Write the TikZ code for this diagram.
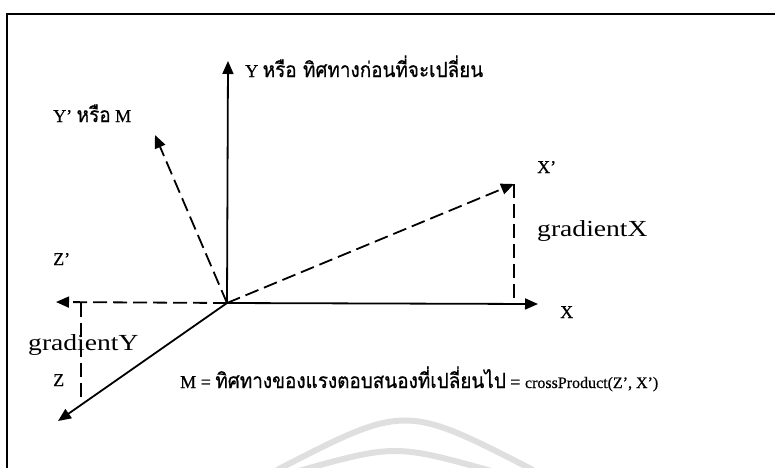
\documentclass[tikz,border=0pt]{standalone}
\usepackage{fontspec}
\setmainfont[FakeBold=0.4,AutoFakeBold=0.4]{Liberation Serif}
\newfontfamily\thai[Script=Thai,FakeStretch=0.9,FakeBold=0.6]{Loma}
\newfontfamily\gradfont[FakeStretch=1.2]{Liberation Serif}
\newcommand\thaitxt[1]{{\fontsize{21}{24}\thai\selectfont #1}}
\usetikzlibrary{arrows.meta}
\begin{document}
\begin{tikzpicture}[x=1pt,y=-1pt,
  axis/.style={line width=1.8pt,-{Triangle[length=13pt,width=11pt]}},
  daxis/.style={axis,dash pattern=on 14pt off 6pt},
  guide/.style={line width=1.8pt,dash pattern=on 14pt off 6pt},
  lbl/.style={inner sep=0pt,anchor=base west,font=\fontsize{18}{20}\selectfont},
  big/.style={inner sep=0pt,anchor=base west,font=\fontsize{23}{26}\gradfont\selectfont},
  wmark/.style={gray!25,line width=6pt}]
\useasboundingbox (0,0) rectangle (775,467);
% frame
\draw[line width=2pt] (7,470) -- (7,14) -- (776,14);
% watermark arcs
\draw[wmark] (277,470) .. controls (405,404) .. (533,470);
\draw[wmark] (295,472) .. controls (395,444) .. (495,472);
% points
\coordinate (O) at (227,303);
\coordinate (Ytip) at (228,61);
\coordinate (Mtip) at (155,135);
\coordinate (XPtip) at (514,184);
\coordinate (XPfoot) at (514,303);
\coordinate (Xtip) at (538,304);
\coordinate (ZPtip) at (56,302);
\coordinate (ZPfoot) at (81,303);
\coordinate (ZPend) at (81,397);
\coordinate (Ztip) at (58,421);
% axes
\draw[axis] (O) -- (Ytip);
\draw[axis] (O) -- (Xtip);
\draw[axis] (O) -- (Ztip);
\draw[daxis] (O) -- (Mtip);
\draw[daxis] (O) -- (XPtip);
\draw[daxis] (O) -- (ZPtip);
\draw[guide] (XPtip) -- (XPfoot);
\draw[guide] (ZPfoot) -- (ZPend);
% labels
\node[lbl] (ylab) at (245,77) {Y \thaitxt{หรือ ทิศทางก่อนที่จะเปลี่ยน}};
\node[lbl] (mlab) at (53,122) {Y’ \thaitxt{หรือ} M};
\node[lbl] (xplab) at (537,173) {X’};
\node[big] (gx) at (537,236) {gradientX};
\node[lbl] (xlab) at (560,318) {X};
\node[lbl] (zplab) at (53,265) {Z’};
\node[big] (gy) at (28,350) {gradientY};
\node[lbl] (zlab) at (53,386) {Z};
\node[lbl] (formula) at (180,388) {M = \thaitxt{ทิศทางของแรงตอบสนองที่เปลี่ยนไป} = {\fontsize{16}{18}\selectfont crossProduct(Z’, X’)}};
\end{tikzpicture}
\end{document}
